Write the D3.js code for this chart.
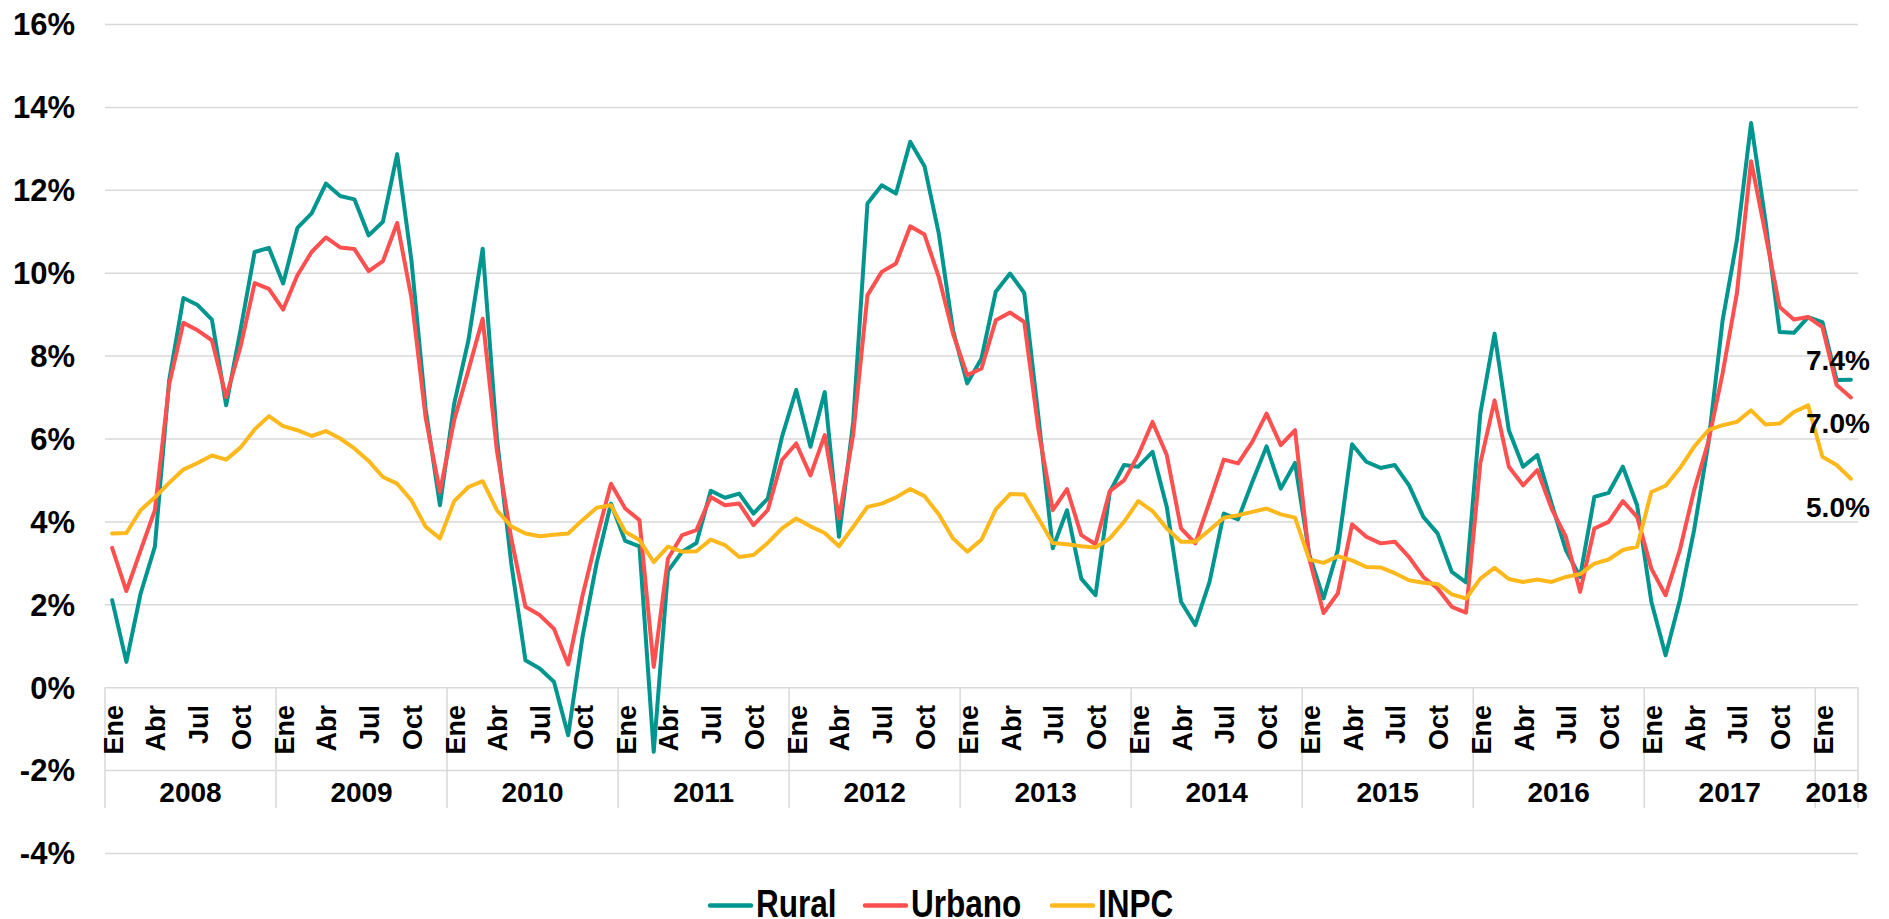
<!DOCTYPE html>
<html>
<head>
<meta charset="utf-8">
<script src="https://cdn.jsdelivr.net/npm/d3@7"></script>
<style>
html, body { margin: 0; padding: 0; background: #ffffff; }
svg { display: block; font-family: "Liberation Sans", Arial, sans-serif; font-weight: bold; }
</style>
</head>
<body>
<svg id="chart" width="1889" height="919"></svg>
<script>
// ---------------- DATA ----------------
const years = [2008, 2009, 2010, 2011, 2012, 2013, 2014, 2015, 2016, 2017, 2018];
const monthNames = ["Ene","Feb","Mar","Abr","May","Jun","Jul","Ago","Sep","Oct","Nov","Dic"];
const shownMonths = ["Ene","Abr","Jul","Oct"];
const yTicks = [-4, -2, 0, 2, 4, 6, 8, 10, 12, 14, 16];
const seriesNames = ["Rural", "Urbano", "INPC"];
const seriesColors = ["#00968F", "#FF5050", "#FFB81C"];

const rural = [
  2.1, 0.61, 2.26, 3.39, 7.4, 9.39, 9.22, 8.87, 6.80, 8.6, 10.5, 10.6,
  9.74, 11.08, 11.43, 12.15, 11.85, 11.77, 10.9, 11.23, 12.86, 10.3, 6.7, 4.39,
  6.84, 8.37, 10.58, 6.0, 3.0, 0.65, 0.45, 0.13, -1.16, 1.2, 3.0, 4.43,
  3.53, 3.40, -1.56, 2.8, 3.27, 3.48, 4.74, 4.57, 4.67, 4.19, 4.55, 6.04,
  7.17, 5.80, 7.12, 3.63, 6.4, 11.67, 12.11, 11.91, 13.16, 12.57, 10.95, 8.61,
  7.33, 7.93, 9.54, 9.98, 9.51, 6.5, 3.35, 4.27, 2.62, 2.22, 4.71, 5.36,
  5.32, 5.68, 4.35, 2.06, 1.5, 2.54, 4.19, 4.05, 4.95, 5.81, 4.79, 5.41,
  3.2, 2.14, 3.31, 5.86, 5.44, 5.29, 5.36, 4.87, 4.11, 3.71, 2.78, 2.53,
  6.6, 8.53, 6.2, 5.32, 5.60, 4.43, 3.31, 2.66, 4.59, 4.69, 5.32, 4.39,
  2.06, 0.77, 2.10, 3.79, 5.88, 8.85, 10.78, 13.61, 11.27, 8.57, 8.55, 8.93,
  8.81, 7.41, 7.42
];
const urbano = [
  3.36, 2.32, 3.3, 4.27, 7.3, 8.79, 8.61, 8.37, 7.0, 8.2, 9.75, 9.61,
  9.11, 9.94, 10.5, 10.85, 10.61, 10.57, 10.04, 10.28, 11.2, 9.4, 6.5, 4.71,
  6.44, 7.65, 8.89, 5.7, 3.6, 1.94, 1.74, 1.41, 0.55, 2.2, 3.6, 4.91,
  4.31, 4.03, 0.49, 3.1, 3.67, 3.79, 4.59, 4.39, 4.43, 3.91, 4.27, 5.48,
  5.88, 5.11, 6.08, 4.07, 6.1, 9.46, 10.02, 10.22, 11.12, 10.92, 9.9, 8.53,
  7.53, 7.69, 8.85, 9.04, 8.81, 6.2, 4.27, 4.78, 3.67, 3.45, 4.73, 4.99,
  5.6, 6.4, 5.6, 3.83, 3.47, 4.47, 5.49, 5.40, 5.92, 6.6, 5.84, 6.2,
  3.1, 1.79, 2.26, 3.93, 3.63, 3.47, 3.51, 3.14, 2.66, 2.38, 1.94, 1.80,
  5.4, 6.92, 5.32, 4.87, 5.24, 4.31, 3.63, 2.30, 3.83, 3.99, 4.49, 4.11,
  2.86, 2.22, 3.31, 4.75, 5.92, 7.57, 9.5, 12.69, 10.95, 9.17, 8.87, 8.93,
  8.69, 7.29, 6.99
];
const inpc = [
  3.71, 3.72, 4.27, 4.58, 4.93, 5.25, 5.41, 5.59, 5.49, 5.78, 6.22, 6.54,
  6.30, 6.2, 6.06, 6.18, 6.0, 5.76, 5.46, 5.07, 4.91, 4.51, 3.87, 3.59,
  4.49, 4.83, 4.97, 4.27, 3.88, 3.71, 3.64, 3.68, 3.71, 4.03, 4.33, 4.39,
  3.75, 3.55, 3.02, 3.39, 3.27, 3.28, 3.56, 3.43, 3.14, 3.19, 3.48, 3.83,
  4.07, 3.88, 3.72, 3.40, 3.87, 4.35, 4.43, 4.58, 4.78, 4.61, 4.17, 3.59,
  3.27, 3.56, 4.29, 4.66, 4.65, 4.07, 3.48, 3.45, 3.40, 3.37, 3.59, 3.99,
  4.49, 4.25, 3.83, 3.51, 3.51, 3.79, 4.09, 4.15, 4.23, 4.31, 4.17, 4.09,
  3.08, 3.0, 3.16, 3.06, 2.90, 2.89, 2.75, 2.58, 2.52, 2.49, 2.24, 2.14,
  2.62, 2.88, 2.61, 2.54, 2.60, 2.54, 2.66, 2.73, 2.98, 3.08, 3.31, 3.39,
  4.71, 4.86, 5.28, 5.80, 6.2, 6.32, 6.4, 6.68, 6.34, 6.36, 6.64, 6.80,
  5.56, 5.36, 5.03
];

// ---------------- BUILD ----------------
const categories = [];
years.forEach(yr => monthNames.forEach((m, mi) => {
  if (categories.length < rural.length) categories.push({ year: yr, month: m, key: yr + "-" + mi });
}));
const series = [rural, urbano, inpc].map((vals, si) => ({
  name: seriesNames[si], color: seriesColors[si],
  values: vals.map((v, i) => ({ key: categories[i].key, v: v }))
}));

const svg = d3.select("#chart");
const left = 105, right = 1858;
const x = d3.scaleBand().domain(categories.map(d => d.key)).range([left, right]).padding(0);
const y = d3.scaleLinear().domain([-4, 16]).range([853, 24]);
const bw = x.bandwidth();
const cx = k => x(k) + bw / 2;

svg.append("rect").attr("width", 1889).attr("height", 919).attr("fill", "#fff");

// Gridlines + y labels
const yAxis = d3.axisLeft(y).tickValues(yTicks).tickSize(-(right - left)).tickPadding(30)
  .tickFormat(d => d + "%");
const gy = svg.append("g").attr("transform", `translate(${left},0)`).call(yAxis);
gy.select(".domain").remove();
gy.selectAll(".tick line").attr("stroke", "#D9D9D9").attr("stroke-width", 1.5);
gy.selectAll(".tick text").attr("fill", "#000").attr("font-size", 31)
  .attr("font-family", '"Liberation Sans", Arial, sans-serif').attr("font-weight", "bold")
  .attr("dy", "0.35em");

// Category axis separators
const y0 = y(0), sepBottom = 808;
const yearStarts = years.map(yr => categories.find(c => c.year === yr)).filter(Boolean);
const sepXs = yearStarts.map(c => x(c.key)).concat([right]);
svg.append("g").selectAll("line").data(sepXs).join("line")
  .attr("x1", d => d).attr("x2", d => d).attr("y1", y0).attr("y2", sepBottom)
  .attr("stroke", "#D9D9D9").attr("stroke-width", 1.5);

// Month labels
svg.append("g").selectAll("text")
  .data(categories.filter(c => shownMonths.includes(c.month)))
  .join("text")
  .attr("transform", d => `translate(${cx(d.key) + 10.5},705) rotate(-90)`)
  .attr("text-anchor", "end")
  .attr("font-size", 27)
  .attr("fill", "#000")
  .text(d => d.month);

// Year labels
svg.append("g").selectAll("text")
  .data(years)
  .join("text")
  .attr("x", yr => {
    const cs = categories.filter(c => c.year === yr);
    return (x(cs[0].key) + x(cs[cs.length - 1].key) + bw) / 2;
  })
  .attr("y", 802)
  .attr("text-anchor", "middle")
  .attr("font-size", 28)
  .attr("fill", "#000")
  .text(d => d);

// Lines
const line = d3.line().x(d => cx(d.key)).y(d => y(d.v));
svg.append("g").selectAll("path").data(series).join("path")
  .attr("d", d => line(d.values))
  .attr("fill", "none")
  .attr("stroke", d => d.color)
  .attr("stroke-width", 4)
  .attr("stroke-linejoin", "round")
  .attr("stroke-linecap", "round");

// End labels
const endOffsets = [-10, 36, 38];
svg.append("g").selectAll("text").data(series).join("text")
  .attr("x", d => cx(d.values[d.values.length - 1].key) + 19)
  .attr("y", (d, i) => y(d.values[d.values.length - 1].v) + endOffsets[i])
  .attr("text-anchor", "end")
  .attr("font-size", 28)
  .attr("fill", "#000")
  .text(d => d3.format(".1f")(d.values[d.values.length - 1].v) + "%");

// Legend
const legendX = [709, 864, 1051];
const lg = svg.append("g").selectAll("g").data(series).join("g")
  .attr("transform", (d, i) => `translate(${legendX[i]},0)`);
lg.append("line").attr("x1", 1).attr("x2", 42).attr("y1", 905.5).attr("y2", 905.5)
  .attr("stroke", d => d.color).attr("stroke-width", 4.5).attr("stroke-linecap", "round");
lg.append("text")
  .attr("transform", "translate(47,917) scale(0.83,1)")
  .attr("font-size", 38)
  .attr("fill", "#000")
  .text(d => d.name);
</script>
</body>
</html>
